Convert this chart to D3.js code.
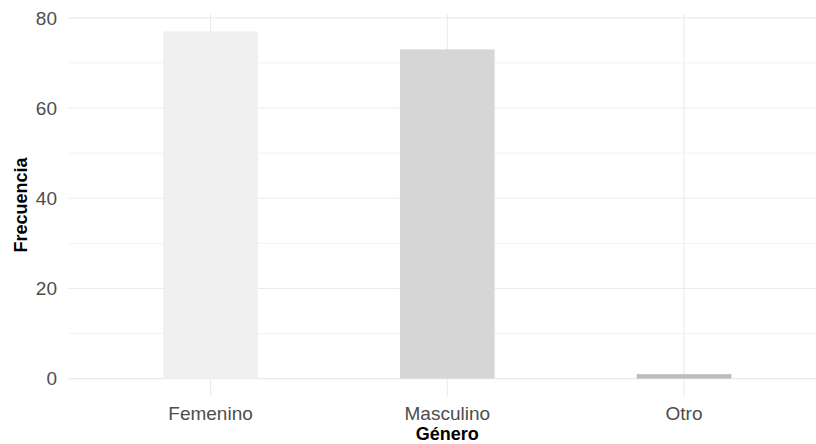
<!DOCTYPE html>
<html>
<head>
<meta charset="utf-8">
<script src="https://cdn.jsdelivr.net/npm/d3@7"></script>
<style>
html,body{margin:0;padding:0;background:#fff;}
svg{display:block;}
text{font-family:"Liberation Sans", Arial, sans-serif;}
</style>
</head>
<body>
<svg id="chart" width="816" height="444"></svg>
<script>
const categories = ["Femenino", "Masculino", "Otro"];
const values = [77, 73, 1];
const barColors = ["#f0f0f0", "#d6d6d6", "#bdbdbd"];
const majorTicks = [0, 20, 40, 60, 80];
const minorTicks = [10, 30, 50, 70];
const xTitle = "Género";
const yTitle = "Frecuencia";

const svg = d3.select("#chart");
const panel = {left: 68.5, top: 14, bottom: 396};
const maxV = d3.max(values);
const y = d3.scaleLinear()
  .domain([-0.05 * maxV, maxV * 1.05])
  .range([panel.bottom, panel.top]);
const step = 236.75;
const x = d3.scaleBand()
  .domain(categories)
  .range([panel.left, panel.left + 3.2 * step])
  .paddingInner(0.6)
  .paddingOuter(0.4);
const xr = [panel.left, 816];

// minor gridlines
svg.append("g").selectAll("line").data(minorTicks).join("line")
  .attr("x1", xr[0]).attr("x2", xr[1])
  .attr("y1", d => y(d)).attr("y2", d => y(d))
  .attr("stroke", "#f2f2f2").attr("stroke-width", 1);
// major gridlines
svg.append("g").selectAll("line").data(majorTicks).join("line")
  .attr("x1", xr[0]).attr("x2", xr[1])
  .attr("y1", d => y(d)).attr("y2", d => y(d))
  .attr("stroke", "#ebebeb").attr("stroke-width", 1.1);
svg.append("g").selectAll("line").data(categories).join("line")
  .attr("x1", d => x(d) + x.bandwidth() / 2).attr("x2", d => x(d) + x.bandwidth() / 2)
  .attr("y1", panel.top).attr("y2", panel.bottom)
  .attr("stroke", "#ebebeb").attr("stroke-width", 1.1);

// bars
svg.append("g").selectAll("rect").data(categories).join("rect")
  .attr("x", d => x(d))
  .attr("width", x.bandwidth())
  .attr("y", (d, i) => y(values[i]))
  .attr("height", (d, i) => y(0) - y(values[i]))
  .attr("fill", (d, i) => barColors[i]);

// y tick labels
svg.append("g").selectAll("text").data(majorTicks).join("text")
  .attr("x", 57).attr("y", d => y(d))
  .attr("dy", "0.36em")
  .attr("text-anchor", "end")
  .attr("font-size", 19)
  .attr("fill", "#4d4d4d")
  .text(d => d);

// x tick labels
svg.append("g").selectAll("text").data(categories).join("text")
  .attr("x", d => x(d) + x.bandwidth() / 2).attr("y", 420)
  .attr("text-anchor", "middle")
  .attr("font-size", 19)
  .attr("fill", "#4d4d4d")
  .text(d => d);

// axis titles
svg.append("text")
  .attr("x", x(categories[1]) + x.bandwidth() / 2).attr("y", 440)
  .attr("text-anchor", "middle")
  .attr("font-size", 18).attr("font-weight", "bold").attr("fill", "#000")
  .text(xTitle);
svg.append("text")
  .attr("transform", "translate(26.5,205) rotate(-90)")
  .attr("text-anchor", "middle")
  .attr("font-size", 18).attr("font-weight", "bold").attr("fill", "#000")
  .text(yTitle);
</script>
</body>
</html>
